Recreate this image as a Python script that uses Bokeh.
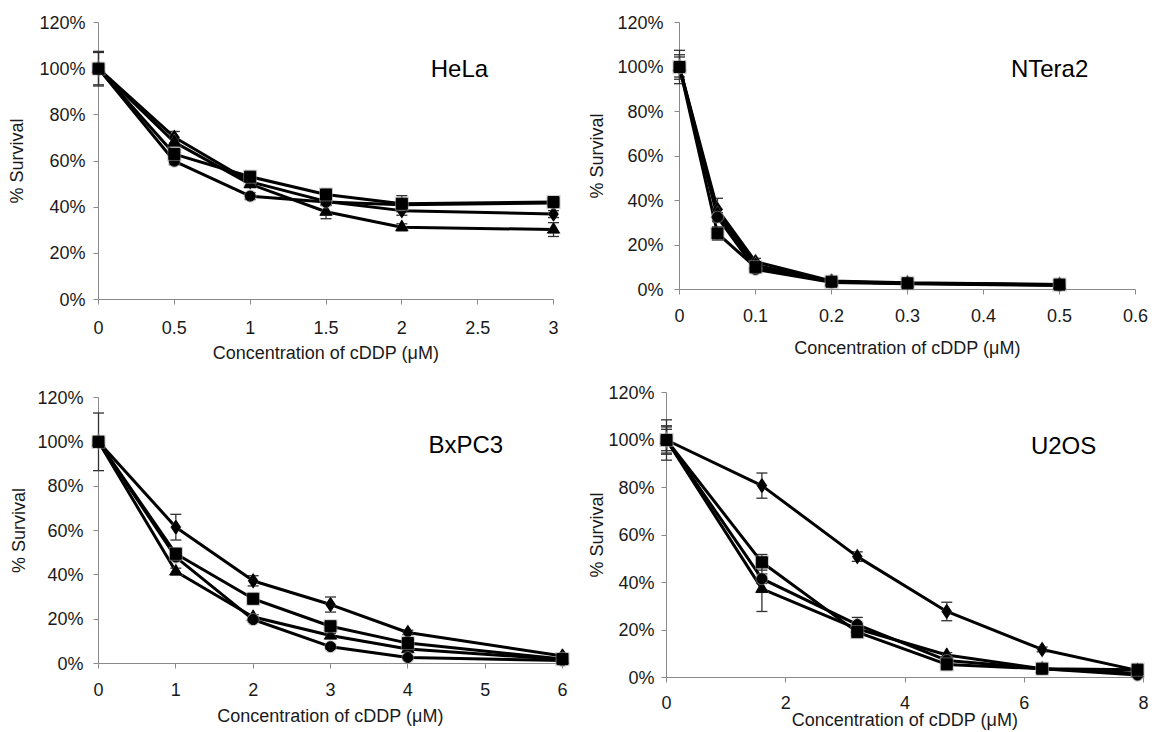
import numpy as np
from bokeh.plotting import figure
from bokeh.layouts import column, row
from bokeh.models import Range1d, FixedTicker, Label, PrintfTickFormatter, NumeralTickFormatter
from bokeh.embed import file_html
from bokeh.resources import INLINE

# ---------------- data ----------------
y_ticks = [0, 20, 40, 60, 80, 100, 120]
x_title = "Concentration of cDDP (μM)"
y_title = "% Survival"

# HeLa
hela_x = [0, 0.5, 1, 1.5, 2, 3]
hela_xticks = [0, 0.5, 1, 1.5, 2, 2.5, 3]
hela_diamond = [100, 70.3, 51.0, 42.5, 38.5, 37.0]
hela_triangle = [100, 68.2, 50.0, 38.0, 31.3, 30.3]
hela_circle = [100, 59.9, 44.8, 42.2, 41.0, 41.8]
hela_square = [100, 63.0, 53.2, 45.5, 41.5, 42.2]
hela_diamond_err = [7.5, 2.5, 1.5, 1.5, 2.0, 1.5]
hela_triangle_err = [1.5, 2.0, 1.5, 3.0, 1.5, 3.0]
hela_circle_err = [1.5, 1.5, 1.5, 1.5, 1.5, 1.5]
hela_square_err = [7.0, 2.0, 1.5, 1.5, 3.5, 1.5]

# NTera2
ntera_x = [0, 0.05, 0.1, 0.2, 0.3, 0.5]
ntera_xticks = [0, 0.1, 0.2, 0.3, 0.4, 0.5, 0.6]
ntera_diamond = [100, 36.0, 12.5, 3.8, 3.0, 2.3]
ntera_triangle = [100, 34.0, 11.0, 3.5, 2.8, 2.0]
ntera_circle = [100, 32.5, 9.0, 3.2, 2.6, 1.8]
ntera_square = [100, 25.2, 10.0, 3.5, 2.8, 2.2]
ntera_diamond_err = [7.5, 5.0, 1.5, 0.5, 0.5, 0.5]
ntera_triangle_err = [5.5, 2.0, 1.5, 0.5, 0.5, 0.5]
ntera_circle_err = [4.5, 2.0, 1.0, 0.5, 0.5, 0.5]
ntera_square_err = [2.0, 3.0, 1.0, 0.5, 0.5, 0.5]

# BxPC3
bxpc_x = [0, 1, 2, 3, 4, 6]
bxpc_xticks = [0, 1, 2, 3, 4, 5, 6]
bxpc_diamond = [100, 61.5, 37.3, 26.6, 14.0, 3.4]
bxpc_triangle = [100, 41.5, 21.0, 12.6, 6.5, 1.8]
bxpc_circle = [100, 48.0, 19.8, 7.6, 2.7, 1.3]
bxpc_square = [100, 49.5, 29.2, 16.8, 9.2, 2.0]
bxpc_diamond_err = [2.5, 5.8, 2.3, 3.4, 1.0, 0.5]
bxpc_triangle_err = [2.0, 1.5, 1.0, 1.0, 1.0, 0.5]
bxpc_circle_err = [1.5, 1.5, 1.0, 1.0, 0.5, 0.5]
bxpc_square_err = [13.0, 2.5, 1.0, 1.5, 1.0, 0.5]

# U2OS
u2os_x = [0, 1.6, 3.2, 4.7, 6.3, 7.9]
u2os_xticks = [0, 2, 4, 6, 8]
u2os_diamond = [100, 80.8, 50.9, 27.8, 11.8, 3.0]
u2os_triangle = [100, 37.3, 20.5, 9.5, 3.7, 1.8]
u2os_circle = [100, 41.6, 22.3, 7.2, 3.7, 1.0]
u2os_square = [100, 48.5, 19.1, 5.5, 3.7, 3.3]
u2os_diamond_err = [5.5, 5.3, 2.0, 3.9, 1.0, 0.5]
u2os_triangle_err = [6.0, 9.5, 2.0, 1.0, 0.5, 0.5]
u2os_circle_err = [8.5, 2.0, 3.0, 1.0, 0.5, 0.5]
u2os_square_err = [4.5, 3.3, 1.5, 1.0, 0.5, 0.5]

FONT = "Liberation Sans"
AXIS_GRAY = "#8a8a8a"
TEXT = "#1a1a1a"

MARKERS = [("diamond", 14), ("triangle", 12), ("circle", 10), ("square", 11)]


def make_panel(name, x, series, errs, xticks, xmax, title_xy, W, H,
               mb, xstand, ystand):
    p = figure(width=W, height=H, title=None,
               x_range=Range1d(0, xmax), y_range=Range1d(0, 120),
               output_backend="svg", toolbar_location=None,
               min_border_left=mb[0], min_border_right=mb[1],
               min_border_top=mb[2], min_border_bottom=mb[3])
    p.frame_align = False
    p.outline_line_color = None
    p.xgrid.visible = False
    p.ygrid.visible = False
    p.background_fill_color = "white"
    p.border_fill_color = "white"

    for ax in (p.xaxis[0], p.yaxis[0]):
        ax.axis_line_color = AXIS_GRAY
        ax.axis_line_width = 1
        ax.major_tick_line_color = AXIS_GRAY
        ax.major_tick_out = 5
        ax.major_tick_in = 0
        ax.minor_tick_line_color = None
        ax.major_label_text_font = FONT
        ax.major_label_text_font_size = "18px"
        ax.major_label_text_color = TEXT
        ax.axis_label_text_font = FONT
        ax.axis_label_text_font_size = "18px"
        ax.axis_label_text_font_style = "normal"
        ax.axis_label_text_color = TEXT

    p.xaxis.ticker = FixedTicker(ticks=xticks)
    p.xaxis.formatter = NumeralTickFormatter(format="0.[0]")
    p.xaxis.axis_label = x_title
    p.xaxis.major_label_standoff = xstand[0]
    p.xaxis.axis_label_standoff = xstand[1]

    p.yaxis.ticker = FixedTicker(ticks=y_ticks)
    p.yaxis.formatter = PrintfTickFormatter(format="%d%%")
    p.yaxis.axis_label = y_title
    p.yaxis.major_label_standoff = ystand[0]
    p.yaxis.axis_label_standoff = ystand[1]

    xa = np.array(x, dtype=float)
    # error bars
    for vals, e in zip(series, errs):
        v = np.array(vals, dtype=float)
        ee = np.array(e, dtype=float)
        p.segment(x0=xa, y0=v - ee, x1=xa, y1=v + ee, line_color="#303030",
                  line_width=1.3, level="overlay")
        p.scatter(x=np.concatenate([xa, xa]), y=np.concatenate([v - ee, v + ee]),
                  marker="dash", size=11, line_color="#303030", line_width=1.3,
                  level="overlay")
    # lines
    for vals in series:
        p.line(x=xa, y=vals, line_color="black", line_width=3, level="overlay")
    # markers
    for vals, (mk, sz) in zip(series, MARKERS):
        p.scatter(x=xa, y=vals, marker=mk, size=sz + 3, fill_color="#9a9a9a",
                  line_color=None, fill_alpha=0.55, level="overlay")
        p.scatter(x=xa, y=vals, marker=mk, size=sz, fill_color="black",
                  line_color="black", level="overlay")

    p.add_layout(Label(x=title_xy[0], y=title_xy[1], text=name,
                       text_font=FONT, text_font_size="24px",
                       text_color="black", text_align="center",
                       text_baseline="middle"))
    return p


p1 = make_panel("HeLa", hela_x,
                [hela_diamond, hela_triangle, hela_circle, hela_square],
                [hela_diamond_err, hela_triangle_err, hela_circle_err, hela_square_err],
                hela_xticks, 3, (2.38, 100), 572, 368,
                (98, 19, 22, 69), (16, 6), (8, 9))
p2 = make_panel("NTera2", ntera_x,
                [ntera_diamond, ntera_triangle, ntera_circle, ntera_square],
                [ntera_diamond_err, ntera_triangle_err, ntera_circle_err, ntera_square_err],
                ntera_xticks, 0.6, (0.487, 99.3), 580, 368,
                (107, 17, 22, 79), (14, 13), (11, 7))
p3 = make_panel("BxPC3", bxpc_x,
                [bxpc_diamond, bxpc_triangle, bxpc_circle, bxpc_square],
                [bxpc_diamond_err, bxpc_triangle_err, bxpc_circle_err, bxpc_square_err],
                bxpc_xticks, 6, (4.75, 98.8), 572, 364,
                (98, 10, 29, 69), (14, 7), (10, 5))
p4 = make_panel("U2OS", u2os_x,
                [u2os_diamond, u2os_triangle, u2os_circle, u2os_square],
                [u2os_diamond_err, u2os_triangle_err, u2os_circle_err, u2os_square_err],
                u2os_xticks, 8, (6.66, 97.7), 580, 364,
                (94, 9, 24, 55), (13, -2), (7, -2))

layout = column(row(p1, p2, spacing=0), row(p3, p4, spacing=0), spacing=0)

open("out.html", "w").write(file_html(layout, INLINE))
